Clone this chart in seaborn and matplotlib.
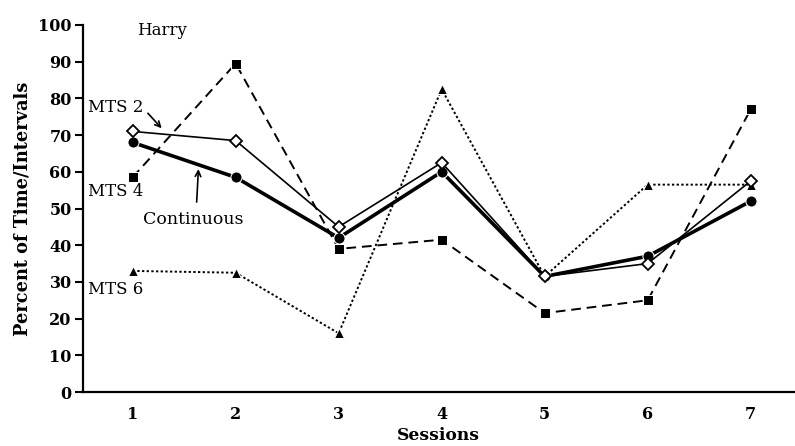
import matplotlib
matplotlib.use("Agg")
import matplotlib.pyplot as plt
import seaborn as sns

sessions = [1, 2, 3, 4, 5, 6, 7]

continuous = [68, 58.5, 42, 60, 31.5, 37, 52]
mts2 = [71, 68.5, 45, 62.5, 31.5, 35, 57.5]
mts4 = [58.5, 89.5, 39, 41.5, 21.5, 25, 77]
mts6 = [33, 32.5, 16, 82.5, 31.5, 56.5, 56.5]

sns.set_style("ticks")
plt.rcParams["font.family"] = ["DejaVu Serif"]
plt.rcParams["text.color"] = "black"
plt.rcParams["axes.labelcolor"] = "black"
plt.rcParams["xtick.color"] = "black"
plt.rcParams["ytick.color"] = "black"
plt.rcParams["axes.edgecolor"] = "black"

fig = plt.figure(figsize=(7.95, 4.46), dpi=100)
ax = fig.add_axes([0.104, 0.121, 0.896, 0.823])

sns.lineplot(x=sessions, y=mts6, ax=ax, color="black", linestyle=(0, (1.2, 1.2)),
             linewidth=1.4, marker="^", markersize=6.5)
sns.lineplot(x=sessions, y=mts4, ax=ax, color="black", linestyle=(0, (5, 3)),
             linewidth=1.4, marker="s", markersize=7)
sns.lineplot(x=sessions, y=continuous, ax=ax, color="black", linestyle="-",
             linewidth=2.6, marker="o", markersize=8)
sns.lineplot(x=sessions, y=mts2, ax=ax, color="black", linestyle="-",
             linewidth=1.2, marker="D", markersize=6.5,
             markerfacecolor="white", markeredgecolor="black", markeredgewidth=1.3)

ax.set_xlim(0.515, 7.43)
ax.set_ylim(0, 100)
ax.set_xticks(sessions)
ax.set_yticks(range(0, 101, 10))
ax.tick_params(axis="y", direction="out", length=6, width=1.5, labelsize=11.5, pad=2)
ax.tick_params(axis="x", length=0, labelsize=11.5, pad=10)
for lab in ax.get_xticklabels() + ax.get_yticklabels():
    lab.set_fontweight("bold")

sns.despine(ax=ax)
ax.spines["left"].set_linewidth(1.6)
ax.spines["bottom"].set_linewidth(1.6)

ax.set_xlabel("Sessions", fontsize=12.3, fontweight="bold", labelpad=3)
ax.set_ylabel("Percent of Time/Intervals", fontsize=12.8, fontweight="bold", labelpad=5)

ax.text(1.04, 98.5, "Harry", fontsize=12, va="center")
ax.text(0.565, 77.5, "MTS 2", fontsize=12, va="center")
ax.text(0.565, 54.5, "MTS 4", fontsize=12, va="center")
ax.text(0.565, 28, "MTS 6", fontsize=12, va="center")
ax.text(1.1, 47, "Continuous", fontsize=12.5, va="center")

ax.annotate("", xy=(1.3, 71.3), xytext=(1.13, 76.5),
            arrowprops=dict(arrowstyle="->", color="black", lw=1.2))
ax.annotate("", xy=(1.64, 61.5), xytext=(1.62, 51),
            arrowprops=dict(arrowstyle="->", color="black", lw=1.2))

fig.savefig("out.png", dpi=100)
